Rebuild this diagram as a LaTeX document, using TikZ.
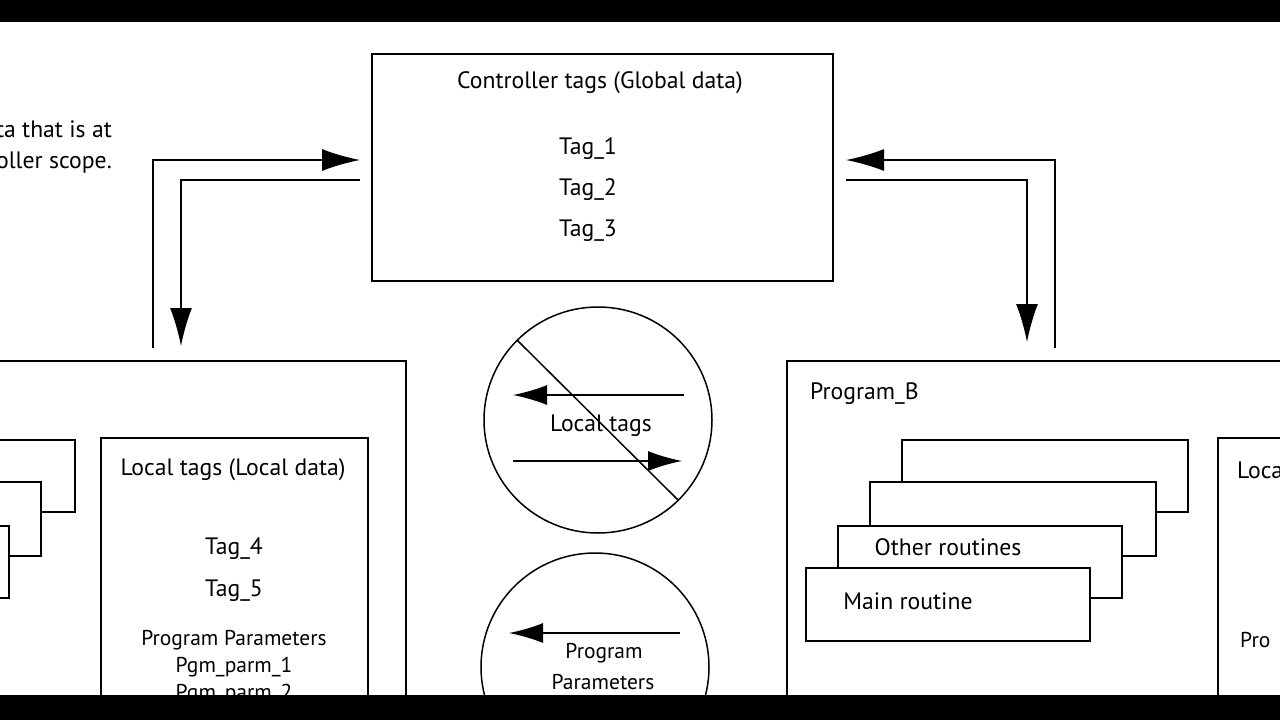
\documentclass[tikz,border=0pt]{standalone}
\usepackage{fontspec}
\setmainfont{PT Sans}
\usetikzlibrary{arrows.meta}
\begin{document}
\begin{tikzpicture}[x=1pt,y=-1pt,
  bx/.style={draw,line width=1.5pt},
  ln/.style={line width=1.5pt},
  arr/.style={line width=1.5pt,-{Latex[length=38pt,width=22pt]}},
  sarr/.style={line width=1.5pt,-{Latex[length=34pt,width=20pt]}},
  txt/.style={font=\fontsize{23.7}{26}\selectfont,inner sep=0pt},
  stxt/.style={font=\fontsize{21.5}{24}\selectfont,inner sep=0pt}]
\useasboundingbox (0,0) rectangle (1280,720);
\begin{scope}
\clip (0,22) rectangle (1280,695);
\draw[bx] (372,54) rectangle (833,281);
\node[txt] (ct) at (600,83) {Controller tags (Global data)};
\node[txt] (t1) at (588,149) {Tag\_1};
\node[txt] (t2) at (588,190) {Tag\_2};
\node[txt] (t3) at (588,231) {Tag\_3};
\node[txt,anchor=east] (l1) at (112,129) {ta that is at};
\node[txt,anchor=east] (l2) at (112,163) {oller scope.};
\coordinate (a1) at (153,348); \coordinate (a2) at (360,160);
\draw[arr] (a1) |- (a2);
\coordinate (b1) at (360,180); \coordinate (b2) at (181,346);
\draw[arr] (b1) -| (b2);
\coordinate (c1) at (1055,348); \coordinate (c2) at (846,160);
\draw[arr] (c1) |- (c2);
\coordinate (d1) at (846,180); \coordinate (d2) at (1027,342);
\draw[arr] (d1) -| (d2);
% left program box
\draw[bx] (-5,361) rectangle (406,730);
\draw[bx] (101,438) rectangle (368,730);
\node[txt] (lt) at (233,470) {Local tags (Local data)};
\node[txt] (t4) at (234,549) {Tag\_4};
\node[txt] (t5) at (234,591) {Tag\_5};
\node[stxt] (pp) at (234,640) {Program Parameters};
\node[stxt] (p1) at (234,667) {Pgm\_parm\_1};
\node[stxt] (p2) at (234,694) {Pgm\_parm\_2};
\draw[bx,fill=white] (-5,440) rectangle (75,512);
\draw[bx,fill=white] (-5,482) rectangle (41,556);
\draw[bx,fill=white] (-5,526) rectangle (9,598);
% circles
\draw[bx] (598,420) ellipse (114 and 113);
\draw[ln] (517,340) -- (678,500);
\coordinate (e1) at (684,395); \coordinate (e2) at (513,395);
\draw[sarr] (e1) -- (e2);
\coordinate (f1) at (513,461); \coordinate (f2) at (682,461);
\draw[sarr] (f1) -- (f2);
\node[txt] (lc) at (601,426) {Local tags};
\draw[bx] (595,667) ellipse (114 and 114);
\coordinate (g1) at (680,633); \coordinate (g2) at (509,633);
\draw[sarr] (g1) -- (g2);
\node[stxt] (pr) at (604,653) {Program};
\node[stxt] (pa) at (603,682) {Parameters};
% right program box
\draw[bx] (787,361) rectangle (1290,730);
\node[txt,anchor=west] (pb) at (810,394) {Program\_B};
\draw[bx,fill=white] (902,440) rectangle (1188,512);
\draw[bx,fill=white] (870,482) rectangle (1156,556);
\draw[bx,fill=white] (838,526) rectangle (1122,598);
\node[txt] (or) at (948,547) {Other routines};
\draw[bx,fill=white] (806,568) rectangle (1090,641);
\node[txt] (mr) at (908,601) {Main routine};
\draw[bx] (1218,438) rectangle (1290,730);
\node[txt,anchor=west] (rl) at (1237,470) {Loca};
\node[stxt,anchor=west] (rp) at (1240,640) {Pro};
\end{scope}
\fill[black] (0,0) rectangle (1280,22);
\fill[black] (0,695) rectangle (1280,720);
\end{tikzpicture}
\end{document}
